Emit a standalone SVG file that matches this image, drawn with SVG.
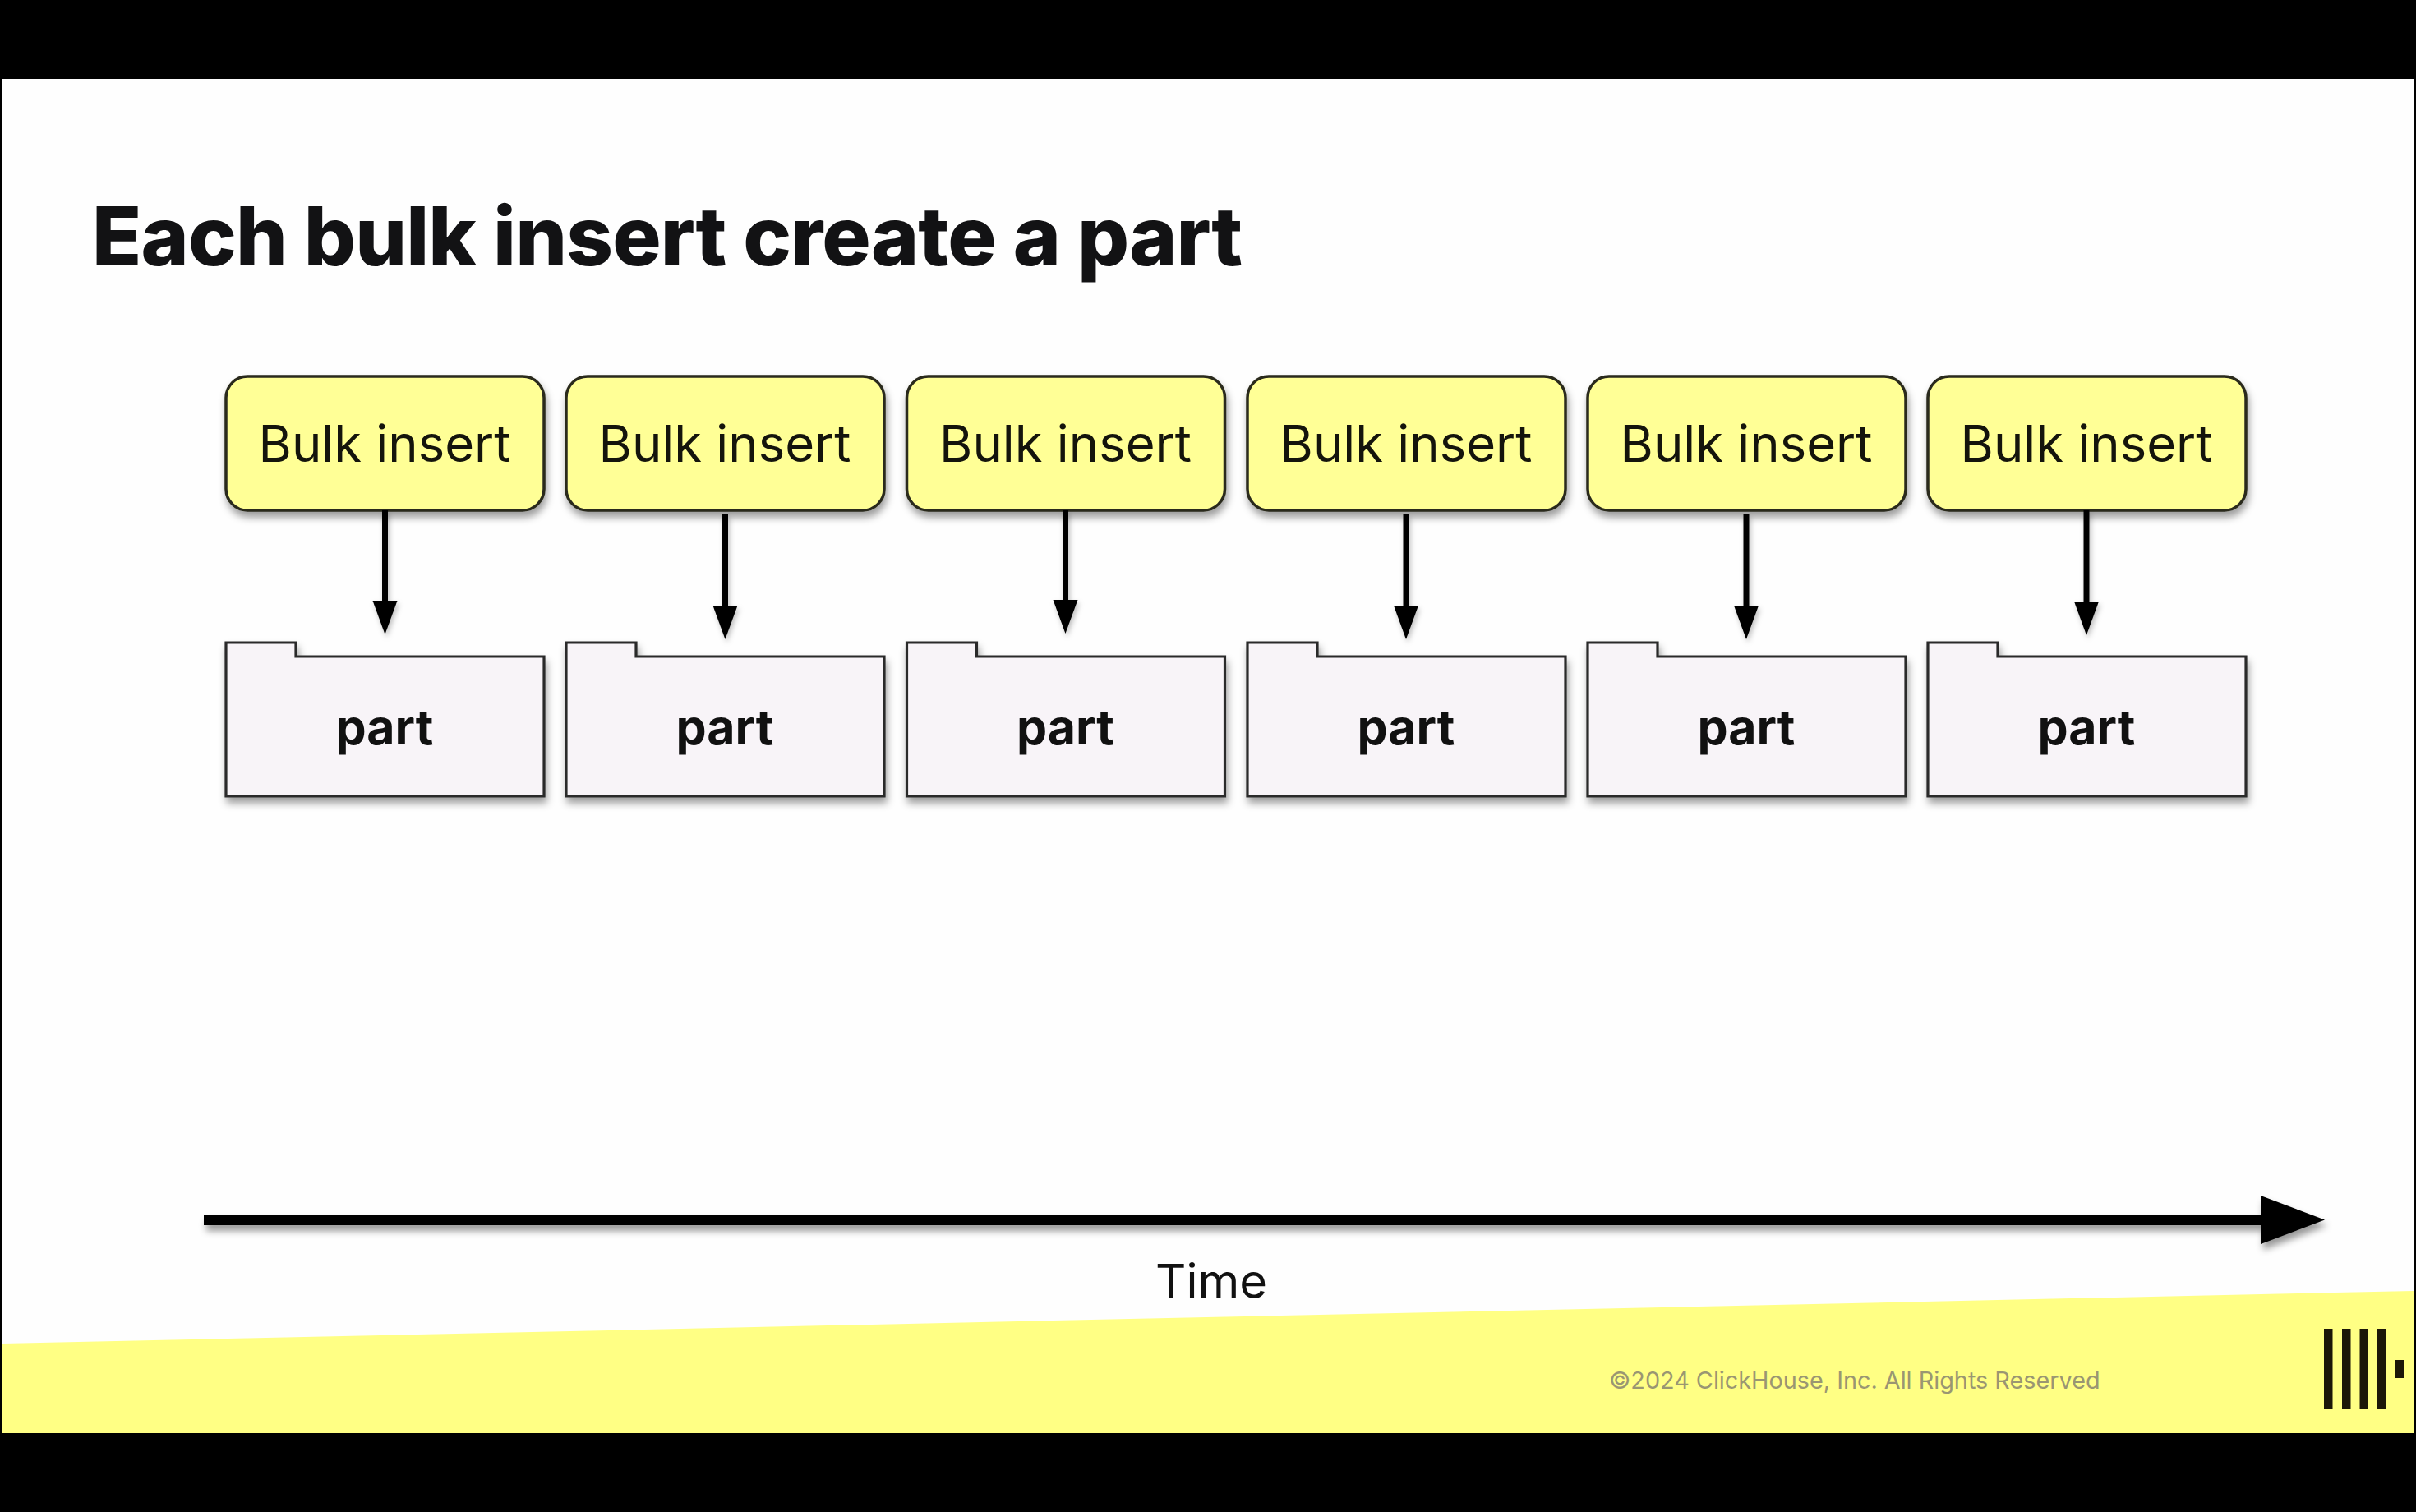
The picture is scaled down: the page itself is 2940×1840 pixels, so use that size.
<svg xmlns="http://www.w3.org/2000/svg" width="2940" height="1840" viewBox="0 0 2940 1840">
<style>
.box{fill:#ffff96;stroke:#2a2a1c;stroke-width:3.5}
.folder{fill:#f8f4f8;stroke:#2a2a2a;stroke-width:3.2}
.bulk{font:400 61.6px Inter,"Liberation Sans",sans-serif;fill:#14140c;text-anchor:middle}
.part{font:700 59px Inter,"Liberation Sans",sans-serif;fill:#111;text-anchor:middle}
.conn{stroke:#000;stroke-width:7;fill:none}
.head{fill:#000}
</style>
<defs>
<filter id="sh" x="-10%" y="-30%" width="120%" height="170%"><feDropShadow dx="2" dy="7" stdDeviation="5" flood-color="#000" flood-opacity="0.38"/></filter>
<filter id="shc" x="-2%" y="-10%" width="104%" height="120%"><feDropShadow dx="2" dy="4" stdDeviation="3" flood-color="#000" flood-opacity="0.25"/></filter>
<filter id="shl" x="-2%" y="-200%" width="104%" height="500%"><feDropShadow dx="3" dy="7" stdDeviation="4" flood-color="#000" flood-opacity="0.4"/></filter>
<path id="fold" d="M0 0H85V17H387V187H0Z"/>
</defs>
<rect width="2940" height="1840" fill="#000"/>
<rect x="3" y="96" width="2934" height="1648" fill="#fefefe"/>
<polygon points="3,1635 2937,1571 2937,1744 3,1744" fill="#ffff84"/>
<text x="112" y="323" font-family="Inter,'Liberation Sans',sans-serif" font-weight="800" font-size="99" letter-spacing="-0.85" fill="#121214">Each bulk insert create a part</text>
<g id="n1"><rect class="box" x="275" y="458" width="387" height="163" rx="26" filter="url(#sh)"/><text class="bulk" x="468" y="562">Bulk insert</text></g>
<g id="n2"><rect class="box" x="689" y="458" width="387" height="163" rx="26" filter="url(#sh)"/><text class="bulk" x="882" y="562">Bulk insert</text></g>
<g id="n3"><rect class="box" x="1103.5" y="458" width="387" height="163" rx="26" filter="url(#sh)"/><text class="bulk" x="1296.5" y="562">Bulk insert</text></g>
<g id="n4"><rect class="box" x="1518" y="458" width="387" height="163" rx="26" filter="url(#sh)"/><text class="bulk" x="1711" y="562">Bulk insert</text></g>
<g id="n5"><rect class="box" x="1932" y="458" width="387" height="163" rx="26" filter="url(#sh)"/><text class="bulk" x="2125" y="562">Bulk insert</text></g>
<g id="n6"><rect class="box" x="2346" y="458" width="387" height="163" rx="26" filter="url(#sh)"/><text class="bulk" x="2539" y="562">Bulk insert</text></g>
<g id="p1"><use href="#fold" class="folder" x="275" y="782" filter="url(#sh)"/><text class="part" x="468" y="906">part</text></g>
<g id="p2"><use href="#fold" class="folder" x="689" y="782" filter="url(#sh)"/><text class="part" x="882" y="906">part</text></g>
<g id="p3"><use href="#fold" class="folder" x="1103.5" y="782" filter="url(#sh)"/><text class="part" x="1296.5" y="906">part</text></g>
<g id="p4"><use href="#fold" class="folder" x="1518" y="782" filter="url(#sh)"/><text class="part" x="1711" y="906">part</text></g>
<g id="p5"><use href="#fold" class="folder" x="1932" y="782" filter="url(#sh)"/><text class="part" x="2125" y="906">part</text></g>
<g id="p6"><use href="#fold" class="folder" x="2346" y="782" filter="url(#sh)"/><text class="part" x="2539" y="906">part</text></g>
<g id="connectors" filter="url(#shc)">
<path class="conn" d="M468.5 621V733"/><polygon class="head" points="453.5,731 483.5,731 468.5,772"/>
<path class="conn" d="M882.5 626V738"/><polygon class="head" points="867.5,737 897.5,737 882.5,778"/>
<path class="conn" d="M1296.5 621V732"/><polygon class="head" points="1281.5,730 1311.5,730 1296.5,771"/>
<path class="conn" d="M1711 626V738"/><polygon class="head" points="1696,737 1726,737 1711,778"/>
<path class="conn" d="M2125 626V738"/><polygon class="head" points="2110,737 2140,737 2125,778"/>
<path class="conn" d="M2539 621V733"/><polygon class="head" points="2524,732 2554,732 2539,773"/>
</g>
<g id="timeline" filter="url(#shl)"><rect x="248" y="1478" width="2510" height="13" fill="#000"/><polygon points="2751,1455 2829,1484.5 2751,1514" fill="#000"/></g>
<text x="1474" y="1579.5" font-family="Inter,'Liberation Sans',sans-serif" font-size="58" fill="#111" text-anchor="middle">Time</text>
<text x="1958" y="1690" font-family="Inter,'Liberation Sans',sans-serif" font-size="28.8" fill="#9a9672">©2024 ClickHouse, Inc. All Rights Reserved</text>
<g id="logo" fill="#1c1708"><rect x="2828" y="1617" width="10.5" height="98"/><rect x="2850" y="1617" width="10.5" height="98"/><rect x="2871.5" y="1617" width="10.5" height="98"/><rect x="2893" y="1617" width="10.5" height="98"/><rect x="2915" y="1655" width="10.5" height="22"/></g>
</svg>
